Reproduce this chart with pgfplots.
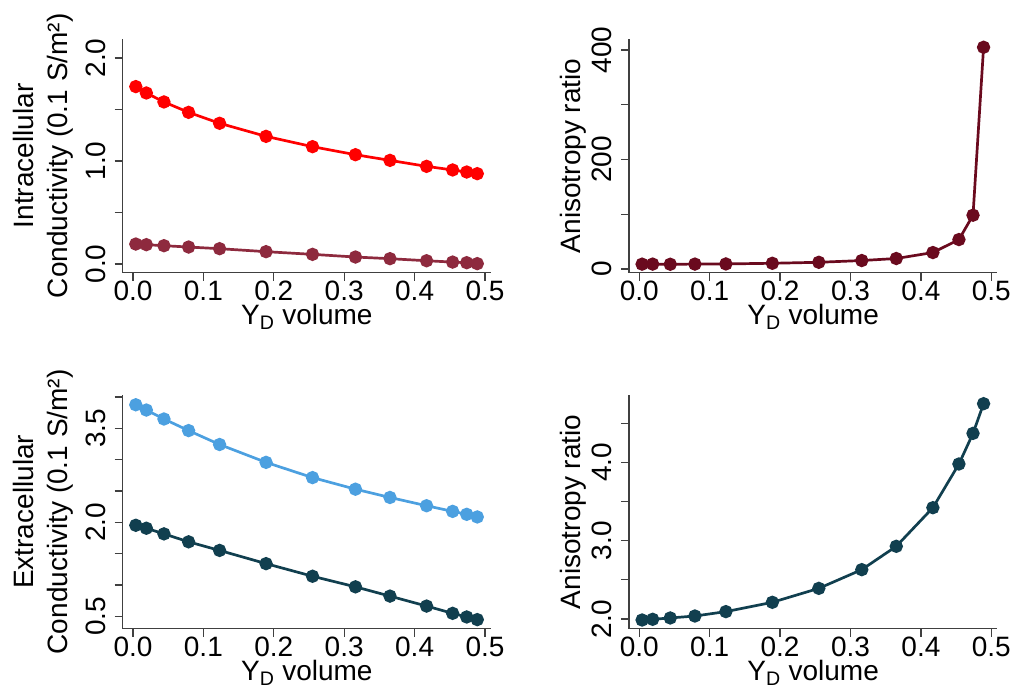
\documentclass[border=0pt]{standalone}
\usepackage{fontspec}
\setmainfont{Liberation Sans}
\usepackage{pgfplots}
\pgfplotsset{compat=1.18}

\definecolor{cred}{HTML}{FF0000}
\definecolor{cmaroon}{HTML}{8E2A3E}
\definecolor{cdark}{HTML}{6A0A1E}
\definecolor{cblue}{HTML}{4CA0E0}
\definecolor{cteal}{HTML}{113F4F}
\definecolor{caxis}{HTML}{404040}

\pgfplotsset{
 stata/.style={
  scale only axis, width=368.3pt, height=233.7pt, anchor=south west,
  axis lines*=left, axis line style={-, caxis, line width=1.3pt},
  tick align=outside, major tick length=8pt,
  every tick/.style={caxis, line width=1.3pt},
  font=\fontsize{28}{34.5}\selectfont,
  xmin=-0.0146, xmax=0.5085,
  xtick={0,0.1,0.2,0.3,0.4,0.5}, xticklabels={0.0,0.1,0.2,0.3,0.4,0.5},
  xticklabel style={anchor=north, inner sep=0pt},
  yticklabel style={rotate=90, anchor=south, inner sep=0pt},
  yticklabel shift=9pt,
  xlabel={Y\textsubscript{D} volume},
  every axis x label/.style={at={(axis description cs:0.5,0)}, anchor=base, yshift=-51.5pt, inner sep=0pt},
  clip=false,
  every axis plot/.append style={line width=2.7pt, mark=*, mark size=5.3pt, mark options={solid}},
 },
 leftlab/.style={every axis y label/.style={at={(axis description cs:-0.1335,0.5)}, rotate=90, anchor=south, align=center, inner sep=0pt}},
 rightlab/.style={every axis y label/.style={at={(axis description cs:-0.1149,0.5)}, rotate=90, anchor=south, align=center, inner sep=0pt}},
}

\begin{document}
\begin{tikzpicture}
\path[use as bounding box] (0pt,0pt) rectangle (1017pt,690pt);

% Top-left
\begin{axis}[stata, leftlab, at={(122.7pt,417.3pt)},
  ymin=-0.084, ymax=2.184,
  ytick={0,0.5,1,1.5,2}, yticklabels={0.0,,1.0,,2.0},
  ylabel={Intracellular\\Conductivity (0.1 S/m²)}]
\addplot[color=cred, mark options={fill=cred, draw=cred}] coordinates {
(0.004,1.722) (0.019,1.660) (0.044,1.573) (0.079,1.472) (0.123,1.366)
(0.189,1.239) (0.255,1.139) (0.316,1.061) (0.365,1.006) (0.417,0.948)
(0.454,0.913) (0.474,0.893) (0.489,0.877)};
\addplot[color=cmaroon, mark options={fill=cmaroon, draw=cmaroon}] coordinates {
(0.004,0.194) (0.019,0.188) (0.044,0.178) (0.079,0.165) (0.123,0.149)
(0.189,0.120) (0.255,0.094) (0.316,0.068) (0.365,0.052) (0.417,0.032)
(0.454,0.019) (0.474,0.013) (0.489,0.004)};
\end{axis}

% Top-right
\begin{axis}[stata, rightlab, at={(629pt,417.3pt)},
  ymin=-6.8, ymax=420,
  ytick={0,100,200,300,400}, yticklabels={0,,200,,400},
  ylabel={Anisotropy ratio}]
\addplot[color=cdark, mark options={fill=cdark, draw=cdark}] coordinates {
(0.004,8.8) (0.019,8.9) (0.044,8.6) (0.079,8.9) (0.123,9.2)
(0.189,10.4) (0.255,12.2) (0.316,15.4) (0.365,19.1) (0.417,30.0)
(0.454,53.7) (0.474,98.2) (0.489,404.9)};
\end{axis}

% Bottom-left
\begin{axis}[stata, leftlab, at={(122.7pt,61.3pt)},
  ymin=0.302, ymax=4.031,
  ytick={0.5,1,1.5,2,2.5,3,3.5,4}, yticklabels={0.5,,,2.0,,,3.5,},
  ylabel={Extracellular\\Conductivity (0.1 S/m²)}]
\addplot[color=cblue, mark options={fill=cblue, draw=cblue}] coordinates {
(0.004,3.875) (0.019,3.791) (0.044,3.648) (0.079,3.463) (0.123,3.241)
(0.189,2.956) (0.255,2.713) (0.316,2.528) (0.365,2.396) (0.417,2.264)
(0.454,2.174) (0.474,2.127) (0.489,2.085)};
\addplot[color=cteal, mark options={fill=cteal, draw=cteal}] coordinates {
(0.004,1.952) (0.019,1.905) (0.044,1.815) (0.079,1.688) (0.123,1.551)
(0.189,1.340) (0.255,1.139) (0.316,0.970) (0.365,0.822) (0.417,0.663)
(0.454,0.547) (0.474,0.489) (0.489,0.447)};
\end{axis}

% Bottom-right
\begin{axis}[stata, rightlab, at={(629pt,61.3pt)},
  ymin=1.876, ymax=4.86,
  ytick={2,2.5,3,3.5,4,4.5}, yticklabels={2.0,,3.0,,4.0,},
  ylabel={Anisotropy ratio}]
\addplot[color=cteal, mark options={fill=cteal, draw=cteal}] coordinates {
(0.004,1.987) (0.019,1.996) (0.044,2.013) (0.079,2.038) (0.123,2.094)
(0.189,2.213) (0.255,2.391) (0.316,2.630) (0.365,2.928) (0.417,3.421)
(0.454,3.979) (0.474,4.370) (0.489,4.749)};
\end{axis}
\end{tikzpicture}
\end{document}
